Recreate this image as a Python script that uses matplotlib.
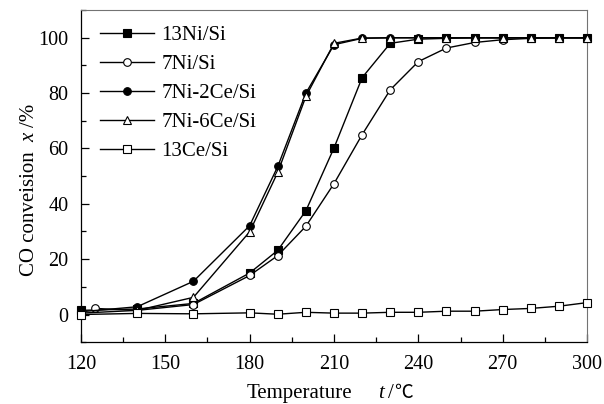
import numpy as np
import matplotlib
matplotlib.use('Agg')
import matplotlib.pyplot as plt
from matplotlib.ticker import MultipleLocator

plt.rcParams['font.family'] = ['Liberation Serif', 'Noto Sans CJK SC', 'DejaVu Serif']

# data
t_ni13 = [120, 140, 160, 180, 190, 200, 210, 220, 230, 240, 250, 260, 270, 280, 290, 300]
x_ni13 = [1.5, 2.0, 4.0, 15.0, 23.2, 37.5, 60.2, 85.6, 98.0, 99.5, 99.8, 100, 100, 100, 100, 100]

t_ni7 = [125, 140, 160, 180, 190, 200, 210, 220, 230, 240, 250, 260, 270, 280, 290, 300]
x_ni7 = [2.2, 1.5, 3.6, 14.1, 21.3, 31.9, 47.3, 65.0, 81.2, 91.4, 96.3, 98.3, 99.3, 99.8, 100, 100]

t_ni7ce2 = [120, 140, 160, 180, 190, 200, 210, 220, 230, 240, 250, 260, 270, 280, 290, 300]
x_ni7ce2 = [1.0, 2.8, 12.0, 32.1, 53.5, 80.0, 97.5, 99.8, 100, 100, 100, 100, 100, 100, 100, 100]

t_ni7ce6 = [120, 140, 160, 180, 190, 200, 210, 220, 230, 240, 250, 260, 270, 280, 290, 300]
x_ni7ce6 = [0.5, 1.5, 6.2, 29.9, 51.4, 78.8, 98.0, 99.9, 100, 100, 100, 100, 100, 100, 100, 100]

t_ce13 = [120, 140, 160, 180, 190, 200, 210, 220, 230, 240, 250, 260, 270, 280, 290, 300]
x_ce13 = [0.0, 0.4, 0.25, 0.6, 0.1, 0.8, 0.5, 0.5, 0.8, 0.8, 1.2, 1.2, 1.8, 2.2, 3.0, 4.3]

series = [
    ('13Ni/Si', t_ni13, x_ni13, 's', 'black', 5.2),
    ('7Ni/Si', t_ni7, x_ni7, 'o', 'white', 5.5),
    ('7Ni-2Ce/Si', t_ni7ce2, x_ni7ce2, 'o', 'black', 5.5),
    ('7Ni-6Ce/Si', t_ni7ce6, x_ni7ce6, '^', 'white', 6.0),
    ('13Ce/Si', t_ce13, x_ce13, 's', 'white', 5.2),
]

W, H = 604, 404
fig = plt.figure(figsize=(W / 100, H / 100), dpi=100)
ax = fig.add_axes([0.134, 0.153, 0.838, 0.822])

for name, t, x, m, fc, ms in series:
    ax.plot(t, x, color='black', lw=1.0, marker=m, markersize=ms,
            markerfacecolor=fc, markeredgecolor='black', markeredgewidth=0.8,
            label=name, clip_on=False, zorder=3)

ax.set_xlim(120, 300)
ax.set_ylim(-10, 110)
ax.xaxis.set_major_locator(MultipleLocator(30))
ax.xaxis.set_minor_locator(MultipleLocator(15))
ax.yaxis.set_minor_locator(MultipleLocator(10))
ax.set_yticks([0, 20, 40, 60, 80, 100])
ax.tick_params(which='both', direction='in', top=False, right=False, labelsize=14.5)
ax.tick_params(which='major', length=6, width=0.9, pad=9)
ax.tick_params(which='minor', length=3.5, width=0.9)
for s in ['top', 'right']:
    ax.spines[s].set_color('0.45')
for s in ['left', 'bottom']:
    ax.spines[s].set_linewidth(0.9)

# axis labels built from pieces so the variable can be italic
fs = 15
fig.text(247 / W, 1 - 398 / H, 'Temperature', fontsize=fs, ha='left', va='baseline')
fig.text(378 / W, 1 - 398 / H, 't', fontsize=fs, style='italic', ha='left', va='baseline')
fig.text(388 / W, 1 - 398 / H, '/', fontsize=fs, ha='left', va='baseline')
fig.text(394 / W, 1 - 398 / H, '\u2103', fontsize=13.5, family='Noto Sans CJK SC',
         weight='light', ha='left', va='baseline')

fig.text(34 / W, 1 - 276 / H, 'CO conveision', fontsize=fs, rotation=90,
         rotation_mode='anchor', ha='left', va='baseline')
fig.text(34 / W, 1 - 142 / H, 'x', fontsize=fs, style='italic', rotation=90,
         rotation_mode='anchor', ha='left', va='baseline')
fig.text(34 / W, 1 - 127 / H, '/%', fontsize=fs, rotation=90,
         rotation_mode='anchor', ha='left', va='baseline')

ax.legend(loc='upper left', frameon=False, fontsize=fs, handlelength=2.6,
          handletextpad=0.35, labelspacing=0.45, borderaxespad=0.5,
          bbox_to_anchor=(0.0, 1.01))

fig.savefig('out.png', dpi=100)
